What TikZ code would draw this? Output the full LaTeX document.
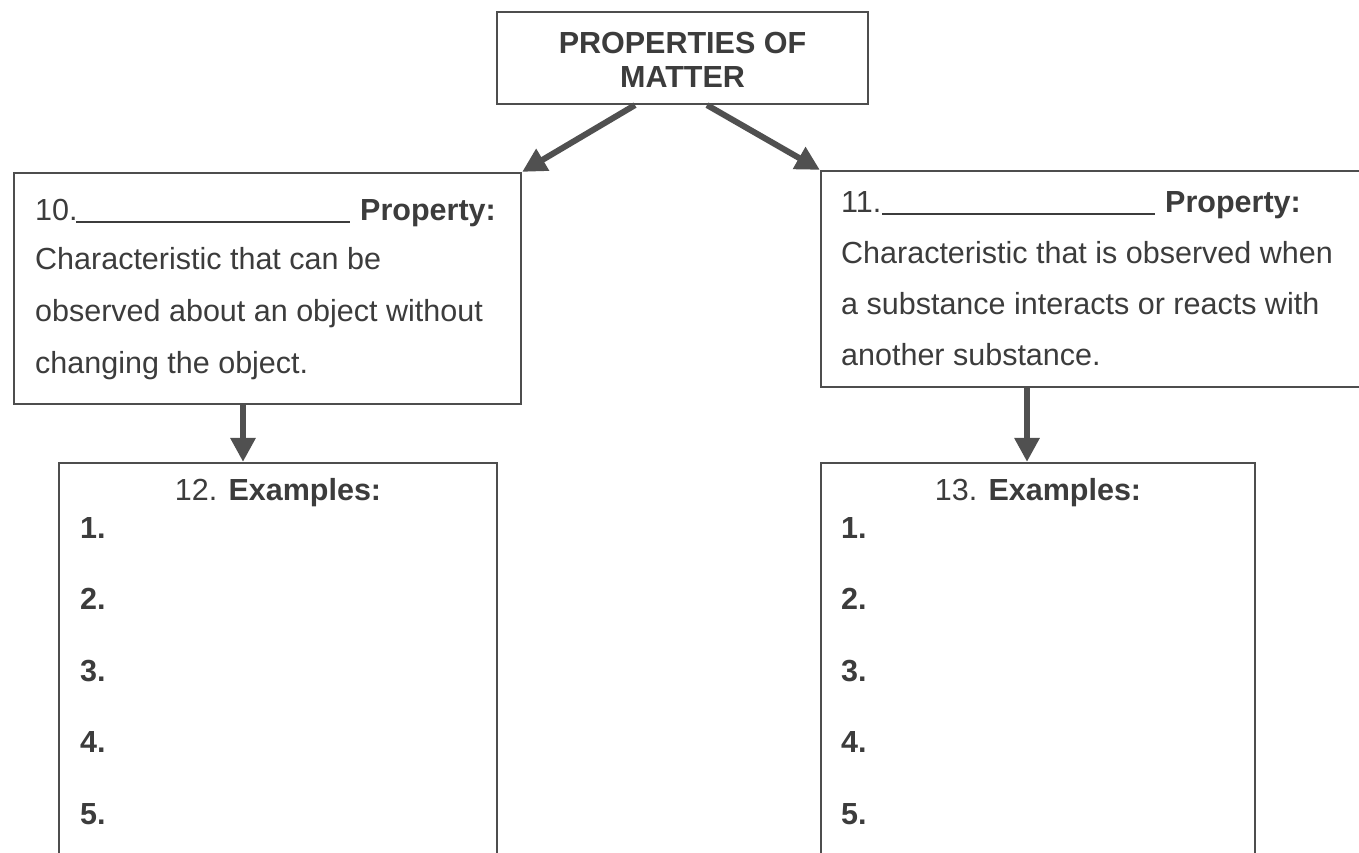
\documentclass[tikz,border=0pt]{standalone}
\usepackage{fontspec}
\setmainfont{Liberation Sans}
\usetikzlibrary{arrows.meta}
\definecolor{ink}{HTML}{3C3C3C}
\definecolor{frame}{HTML}{4E4E4E}
\definecolor{arrowgray}{HTML}{505050}
\begin{document}
\begin{tikzpicture}[x=1pt,y=-1pt,
  boxshape/.style={draw=frame, line width=2.2pt, inner sep=0pt},
  txt/.style={inner sep=0pt, anchor=base west, text=ink,
    font=\fontsize{30.5}{34}\selectfont},
  ctxt/.style={txt, anchor=base},
  btxt/.style={txt, font=\fontsize{30.5}{34}\selectfont\bfseries},
  cbtxt/.style={btxt, anchor=base},
  blank/.style={draw=ink, line width=2pt},
  arr/.style={draw=arrowgray, line width=6pt,
    -{Triangle[length=24pt,width=24pt]}}]
% page
\fill[white] (0,0) rectangle (1359,852);
\useasboundingbox (0,0) rectangle (1359,852);

% boxes (the example boxes run on past the lower edge of the page)
\node[boxshape, minimum width=371pt, minimum height=92pt] (top) at (682.5,58) {};
\node[boxshape, minimum width=507pt, minimum height=231pt] (lbox) at (267.5,288.5) {};
\node[boxshape, minimum width=554pt, minimum height=216pt] (rbox) at (1098,279) {};
\node[boxshape, minimum width=438pt, minimum height=391pt] (lex) at (278,658.5) {};
\node[boxshape, minimum width=434pt, minimum height=391pt] (rex) at (1038,658.5) {};

% title
\node[cbtxt] (t1) at (682.5,53) {PROPERTIES OF};
\node[cbtxt] (t2) at (682.5,87) {MATTER};

% physical property box
\node[txt] (l0) at (35,220) {10.};
\coordinate (lu1) at (76,222);
\coordinate (lu2) at (350,222);
\draw[blank] (lu1) -- (lu2);
\node[btxt] (lp) at (360,220) {Property:};
\node[txt] (l1) at (35,269) {Characteristic that can be};
\node[txt] (l2) at (35,321) {observed about an object without};
\node[txt] (l3) at (35,373) {changing the object.};

% chemical property box
\node[txt] (r0) at (841,212) {11.};
\coordinate (ru1) at (882,214);
\coordinate (ru2) at (1155,214);
\draw[blank] (ru1) -- (ru2);
\node[btxt] (rp) at (1165,212) {Property:};
\node[txt] (r1) at (841,263) {Characteristic that is observed when};
\node[txt] (r2) at (841,314) {a substance interacts or reacts with};
\node[txt] (r3) at (841,365) {another substance.};

% example lists
\node[ctxt] (lext) at (278,500) {12. \textbf{Examples:}};
\node[ctxt] (rext) at (1038,500) {13. \textbf{Examples:}};
\foreach \n/\y in {1/538,2/609,3/681,4/752,5/824}{
  \node[btxt] (li\n) at (80,\y) {\n.};
  \node[btxt] (ri\n) at (841,\y) {\n.};
}

% connectors
\coordinate (la) at (243,0);
\coordinate (ra) at (1027,0);
\draw[arr] ([xshift=-47.5pt]top.south) -- (lbox.north east);
\draw[arr] ([xshift=24.5pt]top.south) -- (rbox.north west);
\draw[arr] (lbox.south -| la) -- (lex.north -| la);
\draw[arr] (rbox.south -| ra) -- (rex.north -| ra);
\end{tikzpicture}
\end{document}
